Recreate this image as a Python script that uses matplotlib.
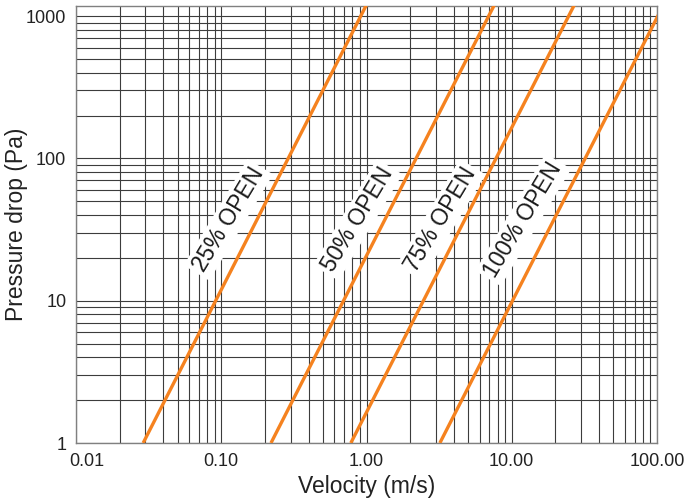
import matplotlib
matplotlib.use("Agg")
import matplotlib.pyplot as plt
import matplotlib.transforms as mtransforms
from matplotlib.ticker import FixedLocator, LogLocator, NullFormatter, FixedFormatter

plt.rcParams['font.family'] = ['Liberation Sans', 'DejaVu Sans']

# ---- data ----
open_labels = ["25% OPEN", "50% OPEN", "75% OPEN", "100% OPEN"]
pressure_pts = [1, 1200]                  # Pa, line end points
velocity_25 = [0.029, 1.00]               # m/s at those pressures
velocity_50 = [0.22, 7.6]
velocity_75 = [0.78, 27.0]
velocity_100 = [3.2, 111.0]
series = [velocity_25, velocity_50, velocity_75, velocity_100]

x_ticks = [0.01, 0.1, 1, 10, 100]
x_ticklabels = ["0.01", "0.10", "1.00", "10.00", "100.00"]
y_ticks = [1, 10, 100, 1000]
y_ticklabels = ["1", "10", "100", "1000"]

# label anchor points (velocity, pressure)
label_pos = [(0.112, 37), (0.87, 37), (3.25, 37), (12.0, 37)]

W, H = 685, 504
fig = plt.figure(figsize=(W / 100, H / 100), dpi=100)
ax = fig.add_axes([76 / W, (H - 443) / H, (657 - 76) / W, (443 - 6) / H])

ax.set_xscale('log')
ax.set_yscale('log')
ax.set_xlim(0.01, 100)
ax.set_ylim(1, 1176)

orange = '#f5821f'
for v in series:
    ax.plot(v, pressure_pts, color=orange, lw=2.4, solid_capstyle='butt', zorder=3)

for (x, y), t in zip(label_pos, open_labels):
    ax.text(x, y, t, rotation=59, ha='center', va='center', fontsize=16.5,
            color='#1a1a1a', rotation_mode='anchor', zorder=4,
            bbox=dict(facecolor='white', edgecolor='none', pad=2.5))

ax.xaxis.set_major_locator(FixedLocator(x_ticks))
ax.xaxis.set_major_formatter(FixedFormatter(x_ticklabels))
ax.yaxis.set_major_locator(FixedLocator(y_ticks))
ax.yaxis.set_major_formatter(FixedFormatter(y_ticklabels))
ax.xaxis.set_minor_locator(LogLocator(base=10, subs=range(2, 10), numticks=20))
ax.yaxis.set_minor_locator(LogLocator(base=10, subs=range(2, 10), numticks=20))
ax.xaxis.set_minor_formatter(NullFormatter())
ax.yaxis.set_minor_formatter(NullFormatter())

ax.grid(True, which='both', color='#3c3c3c', lw=0.8)
ax.set_axisbelow(True)
ax.tick_params(which='both', length=0)
ax.tick_params(axis='x', pad=7, labelsize=13, colors='#222222')
ax.tick_params(axis='y', pad=7, labelsize=13, colors='#222222')

# first x tick label sits slightly right of the axis edge in the reference
fig.canvas.draw()
first = ax.get_xticklabels()[0]
first.set_transform(first.get_transform() +
                    mtransforms.ScaledTranslation(11 / 100, 0, fig.dpi_scale_trans))

for s in ax.spines.values():
    s.set_color('#808080')
    s.set_linewidth(1.0)

ax.set_xlabel("Velocity (m/s)", fontsize=16.5, color='#222222', labelpad=4)
ax.set_ylabel("Pressure drop (Pa)", fontsize=16.5, color='#222222')
ax.yaxis.set_label_coords((28 - 76) / 581, 0.5)

fig.savefig("out.png", dpi=100)
